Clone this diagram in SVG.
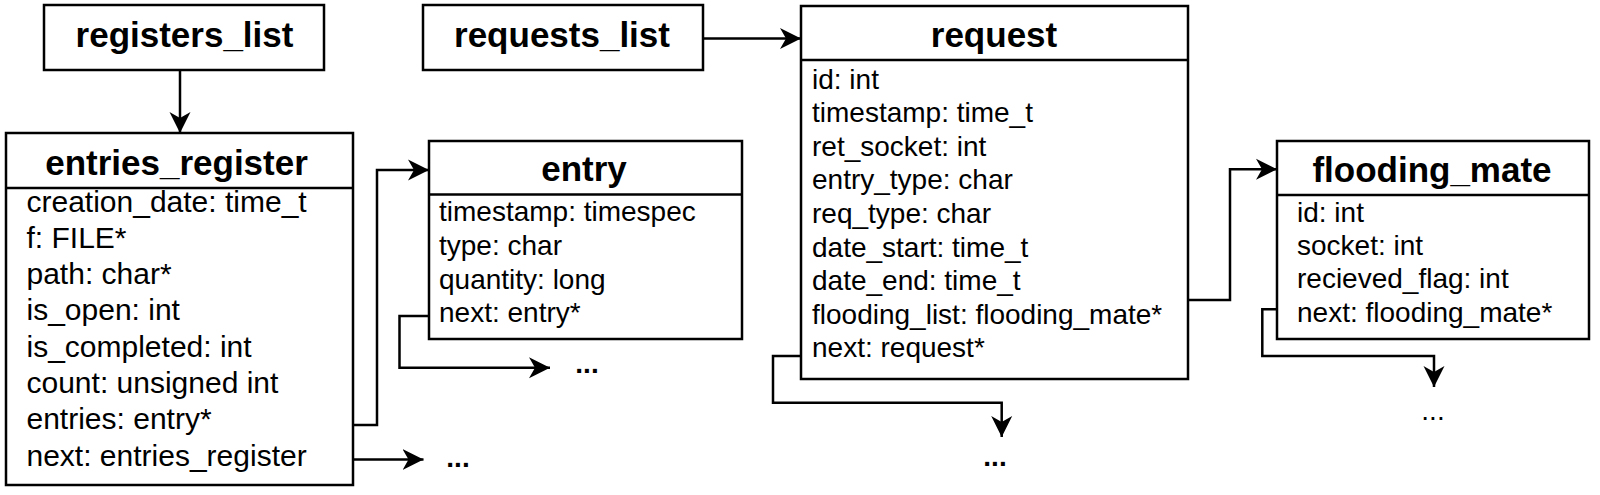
<svg xmlns="http://www.w3.org/2000/svg" width="1600" height="495" viewBox="0 0 1600 495">
<style>
.box{fill:#fff;stroke:#000;stroke-width:2.5}
.sep{stroke:#000;stroke-width:2.5}
.title{font-family:"Liberation Sans",Arial,sans-serif;font-weight:bold;font-size:35px;text-anchor:middle;fill:#000}
.f30{font-family:"Liberation Sans",Arial,sans-serif;font-size:30px;fill:#000}
.f28{font-family:"Liberation Sans",Arial,sans-serif;font-size:28px;fill:#000}
.dots{font-family:"Liberation Sans",Arial,sans-serif;font-size:28px;fill:#000;text-anchor:middle}
.conn path{fill:none;stroke:#000;stroke-width:2.5;marker-end:url(#arr)}
</style>
<defs>
<marker id="arr" markerUnits="userSpaceOnUse" markerWidth="22" markerHeight="22" viewBox="0 0 22 22" refX="21" refY="11" orient="auto">
<path d="M0,0.5 L21,11 L0,21.5 L6,11 z" fill="#000"/>
</marker>
</defs>
<rect width="1600" height="495" fill="#fff"/>

<g id="registers_list">
<rect class="box" x="44" y="5" width="280" height="65"/>
<text class="title" x="184.5" y="47">registers_list</text>
</g>

<g id="requests_list">
<rect class="box" x="423" y="5" width="280" height="65"/>
<text class="title" x="562" y="47">requests_list</text>
</g>

<g id="entries_register">
<rect class="box" x="6" y="133" width="347" height="352"/>
<line class="sep" x1="6" y1="188" x2="353" y2="188"/>
<text class="title" x="176.5" y="175">entries_register</text>
<text class="f30" x="26.5" y="211.5">creation_date: time_t<tspan x="26.5" dy="36.3">f: FILE*</tspan><tspan x="26.5" dy="36.3">path: char*</tspan><tspan x="26.5" dy="36.3">is_open: int</tspan><tspan x="26.5" dy="36.3">is_completed: int</tspan><tspan x="26.5" dy="36.3">count: unsigned int</tspan><tspan x="26.5" dy="36.3">entries: entry*</tspan><tspan x="26.5" dy="36.3">next: entries_register</tspan></text>
</g>

<g id="entry">
<rect class="box" x="429" y="141" width="313" height="198"/>
<line class="sep" x1="429" y1="194.5" x2="742" y2="194.5"/>
<text class="title" x="584" y="181">entry</text>
<text class="f28" x="439" y="221">timestamp: timespec<tspan x="439" dy="33.8">type: char</tspan><tspan x="439" dy="33.8">quantity: long</tspan><tspan x="439" dy="33.8">next: entry*</tspan></text>
</g>

<g id="request">
<rect class="box" x="801" y="6" width="387" height="373"/>
<line class="sep" x1="801" y1="60" x2="1188" y2="60"/>
<text class="title" x="994" y="47">request</text>
<text class="f28" x="812" y="88.5">id: int<tspan x="812" dy="33.6">timestamp: time_t</tspan><tspan x="812" dy="33.6">ret_socket: int</tspan><tspan x="812" dy="33.6">entry_type: char</tspan><tspan x="812" dy="33.6">req_type: char</tspan><tspan x="812" dy="33.6">date_start: time_t</tspan><tspan x="812" dy="33.6">date_end: time_t</tspan><tspan x="812" dy="33.6">flooding_list: flooding_mate*</tspan><tspan x="812" dy="33.6">next: request*</tspan></text>
</g>

<g id="flooding_mate">
<rect class="box" x="1277" y="141" width="312" height="198"/>
<line class="sep" x1="1277" y1="195" x2="1589" y2="195"/>
<text class="title" x="1432" y="182">flooding_mate</text>
<text class="f28" x="1297" y="221.7">id: int<tspan x="1297" dy="33.3">socket: int</tspan><tspan x="1297" dy="33.3">recieved_flag: int</tspan><tspan x="1297" dy="33.3">next: flooding_mate*</tspan></text>
</g>

<g id="continuations">
<text class="dots" x="458" y="467" font-weight="bold">...</text>
<text class="dots" x="587" y="373" font-weight="bold">...</text>
<text class="dots" x="995" y="466" font-weight="bold">...</text>
<text class="dots" x="1433" y="420">...</text>
</g>

<g id="connectors" class="conn">
<path d="M180,70 V133"/>
<path d="M703,38.5 H801"/>
<path d="M353,425 H377 V170 H429"/>
<path d="M353,459.5 H423.5"/>
<path d="M429,316 H399.5 V367.7 H550"/>
<path d="M801,356 H773 V402.7 H1001.7 V437"/>
<path d="M1188,300 H1230 V169.3 H1277"/>
<path d="M1277,309.3 H1262.3 V356 H1434 V387"/>
</g>
</svg>
